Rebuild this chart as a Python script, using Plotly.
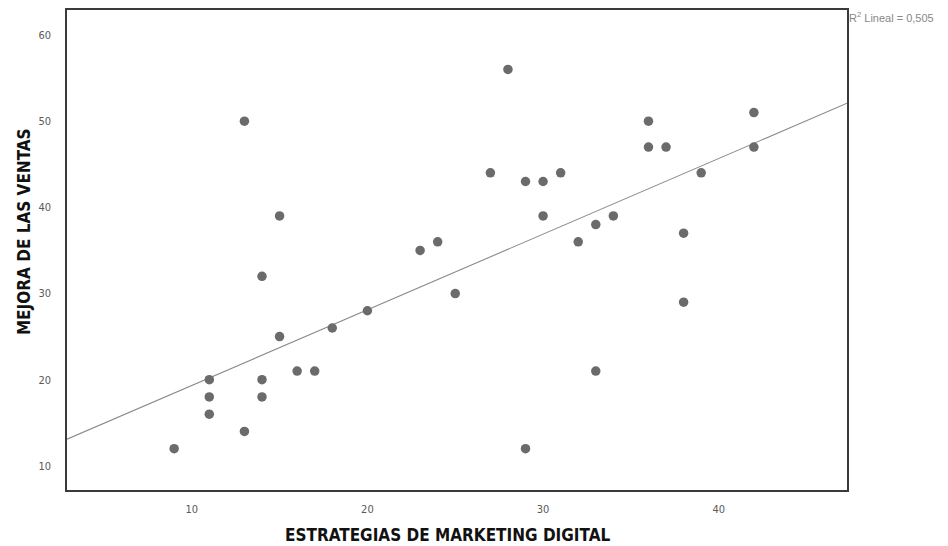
import numpy as np
import plotly.graph_objects as go

# Puntajes por encuestado
estrategias = [9, 11, 11, 11, 13, 13, 14, 14, 14, 15, 15, 16, 17, 18, 20, 23, 24, 25,
               27, 28, 29, 29, 30, 30, 31, 32, 33, 33, 34, 36, 36, 37, 38, 38, 39, 42, 42]
ventas = [12, 20, 18, 16, 50, 14, 32, 20, 18, 39, 25, 21, 21, 26, 28, 35, 36, 30,
          44, 56, 43, 12, 43, 39, 44, 36, 38, 21, 39, 50, 47, 47, 37, 29, 44, 51, 47]

# Recta de ajuste lineal (intercepto, pendiente) y su R²
ajuste_intercepto = 10.55
ajuste_pendiente = 0.878
r2_label = "R<sup>2</sup> Lineal = 0,505"

x_title = "ESTRATEGIAS DE MARKETING DIGITAL"
y_title = "MEJORA DE LAS VENTAS"

x_range = [2.9, 47.3]
y_range = [7.2, 62.9]
x_ticks = [10, 20, 30, 40]
y_ticks = [10, 20, 30, 40, 50, 60]

linea_x = np.array(x_range)
linea_y = ajuste_intercepto + ajuste_pendiente * linea_x

TITLE_FONT = "Liberation Sans Narrow, DejaVu Sans Condensed, Arial Narrow, Arial"

fig = go.Figure()
fig.add_trace(go.Scatter(
    x=linea_x, y=linea_y, mode="lines",
    line=dict(color="#8a8a8a", width=1.1),
    hoverinfo="skip", showlegend=False,
))
fig.add_trace(go.Scatter(
    x=estrategias, y=ventas, mode="markers",
    marker=dict(color="#6b6b6b", size=9.5, line=dict(width=0)),
    showlegend=False,
))

axis_common = dict(
    showgrid=False, zeroline=False, automargin=False,
    showline=True, linecolor="#3a3a3a", linewidth=1.6, mirror=True,
    ticks="", tickfont=dict(family=TITLE_FONT, size=11, color="#5a5a5a"),
)
fig.update_xaxes(range=x_range, tickvals=x_ticks, ticklabelstandoff=8, **axis_common)
fig.update_yaxes(range=y_range, tickvals=y_ticks, ticklabelstandoff=12, **axis_common)

# Títulos de los ejes
fig.add_annotation(
    xref="paper", yref="paper", x=0.4875, y=-0.094, xanchor="center", yanchor="middle",
    text=f"<b>{x_title}</b>", showarrow=False,
    font=dict(family=TITLE_FONT, size=17, color="#111111"),
)
fig.add_annotation(
    xref="paper", yref="paper", x=-0.055, y=0.5375, xanchor="center", yanchor="middle",
    text=f"<b>{y_title}</b>", showarrow=False, textangle=-90,
    font=dict(family=TITLE_FONT, size=17, color="#111111"),
)

fig.add_annotation(
    xref="paper", yref="paper", x=1.0, y=0.985, xanchor="left", yanchor="middle",
    text=r2_label, showarrow=False,
    font=dict(family="Liberation Sans, Arial", size=11, color="#888888"),
)

fig.update_layout(
    width=948, height=546,
    margin=dict(l=67, r=101, t=10, b=56),
    paper_bgcolor="white", plot_bgcolor="white",
)

fig.write_html("out.html")
